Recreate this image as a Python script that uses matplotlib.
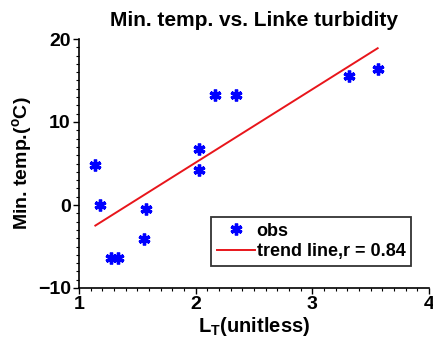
import numpy as np
import matplotlib
matplotlib.use("Agg")
import matplotlib.pyplot as plt
from matplotlib.ticker import MultipleLocator

# Linke turbidity (unitless) and minimum temperature (C)
lt = [1.14, 1.18, 1.27, 1.33, 1.57, 1.56, 2.03, 2.03, 2.17, 2.35, 3.31, 3.56]
tmin = [4.8, 0.0, -6.35, -6.35, -0.5, -4.1, 6.75, 4.2, 13.3, 13.3, 15.5, 16.4]
r_label = "trend line,r = 0.84"

plt.rcParams['font.family'] = ['Liberation Sans', 'DejaVu Sans']
plt.rcParams['font.weight'] = 'bold'
plt.rcParams['axes.labelweight'] = 'bold'
plt.rcParams['mathtext.fontset'] = 'custom'
plt.rcParams['mathtext.rm'] = 'Liberation Sans:bold'
plt.rcParams['mathtext.default'] = 'rm'

x = np.array(lt)
y = np.array(tmin)
k, b = np.polyfit(x, y, 1)
xf = np.array([x.min(), x.max()])

fig = plt.figure(figsize=(4.33, 3.51), dpi=100)
ax = fig.add_axes([79/433, 1-288/351, 350/433, 249/351])

ax.plot(x, y, linestyle='none', marker=(6, 2, 0), markersize=8.5,
        markeredgewidth=2.4, color='#0000ff', label='obs')
ax.plot(xf, k*xf + b, color='#e8151b', lw=1.4, label=r_label)

ax.set_xlim(1, 4)
ax.set_ylim(-10, 20)
ax.xaxis.set_major_locator(MultipleLocator(1))
ax.xaxis.set_minor_locator(MultipleLocator(0.1))
ax.yaxis.set_major_locator(MultipleLocator(10))
ax.yaxis.set_minor_locator(MultipleLocator(1))
ax.tick_params(which='major', direction='out', length=4, width=1, labelsize=14, pad=2)
ax.tick_params(which='minor', direction='out', length=2, width=0.8)
for s in ['top', 'right']:
    ax.spines[s].set_visible(False)
for s in ['left', 'bottom']:
    ax.spines[s].set_linewidth(1.2)

ax.set_title('Min. temp. vs. Linke turbidity', fontsize=15, fontweight='bold', pad=9)
ax.set_xlabel(r'L$_{\rm T}$(unitless)', fontsize=14.5, labelpad=1)
ax.set_ylabel(r'Min. temp.($^{\rm o}$C)', fontsize=14, labelpad=3)

leg = ax.legend(loc='lower right', bbox_to_anchor=(0.948, 0.09), fontsize=13,
                fancybox=False, framealpha=1, edgecolor='#333333',
                handlelength=2.1, handletextpad=0.1, borderpad=0.3,
                labelspacing=0.2, borderaxespad=0)
leg.get_frame().set_linewidth(1.3)

fig.savefig('out.png', dpi=100)
